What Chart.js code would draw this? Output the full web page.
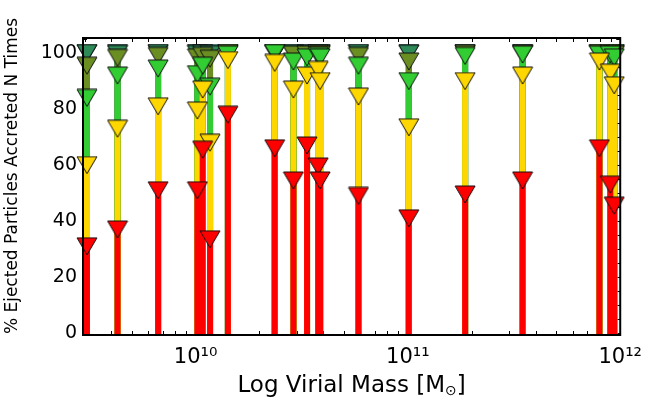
<!DOCTYPE html>
<html><head><meta charset="utf-8">
<script src="https://cdn.jsdelivr.net/npm/chart.js@4.4.0/dist/chart.umd.min.js"></script>
<style>html,body{margin:0;padding:0;background:#fff;}</style>
</head><body>
<canvas id="c" width="652" height="409"></canvas>
<script>
// ---- data ----
const masses = [3.08e9, 4.29e9, 6.66e9, 1.02e10, 1.08e10, 1.17e10, 1.42e10, 2.36e10, 2.89e10, 3.35e10,
                3.78e10, 3.86e10, 5.85e10, 1.01e11, 1.86e11, 3.47e11, 7.98e11, 8.98e11, 9.37e11];
// cumulative % of ejected particles accreted <= N times
const pctN1 = [31, 37, 51, 51, 65.5, 33.5, 78, 66, 54.5, 67, 59.5, 54.5, 49, 41, 49.5, 54.5, 66, 53, 45.5];
const pctN2 = [60, 73, 81, 79.5, 87, 68, 97.5, 96.5, 87, 92, 94, 90, 84.5, 73.5, 90, 92, 97, 93, 88.5];
const pctN3 = [84, 92, 94.5, 92.5, 95.5, 88, 99.5, 100, 97, 98.5, 99, 98.5, 95.5, 90, 99, 99.5, 99.5, 99.5, 98.5];
const pctN4 = [95.5, 98.3, 99, 98.5, 99, 98, 100, 100, 99.5, 99.5, 99.8, 99.5, 99, 97, 99.8, 99.8, 100, 100, 99.5];
const pctN5 = [100, 99.7, 100, 99.7, 99.8, 99.6, 100, 100, 100, 99.8, 100, 100, 100, 99.8, 100, 100, 100, 100, 100];
const pctN6 = [100, 100, 100, 100, 100, 100, 100, 100, 100, 100, 100, 100, 100, 100, 100, 100, 100, 100, 100];
const yTicks = [0, 20, 40, 60, 80, 100];
const xTicks = [1e10, 1e11, 1e12];
const xTickLabels = ['10\u00B9\u2070', '10\u00B9\u00B9', '10\u00B9\u00B2'];
const xTitle = ['Log Virial Mass [M', '\u2299', ']'];
const yTitle = '% Ejected Particles Accreted N Times';

// ---- styles ----
const levelColors = ['#FF0000', '#FFD700', '#32CD32', '#6B8E23', '#2E8B57', '#008B8B'];
const levelData = [pctN1, pctN2, pctN3, pctN4, pctN5, pctN6];
const Y_MIN = -0.7, Y_MAX = 105.4, X_MIN = 2.95e9, X_MAX = 1e12;
const FONT = '"DejaVu Sans", sans-serif';

function triangle(color) {
  const c = document.createElement('canvas');
  c.width = 22; c.height = 19;
  const g = c.getContext('2d');
  g.beginPath(); g.moveTo(1, 1); g.lineTo(21, 1); g.lineTo(11, 18); g.closePath();
  g.fillStyle = color; g.fill();
  g.lineWidth = 1; g.strokeStyle = '#111'; g.stroke();
  return c;
}
function segments(vals) {
  const out = [];
  masses.forEach((m, i) => { out.push({x: m, y: Y_MIN}, {x: m, y: vals[i]}, {x: m, y: null}); });
  return out;
}
const datasets = levelData.map((vals, k) => ({
  data: segments(vals),
  showLine: true,
  spanGaps: false,
  borderColor: levelColors[k],
  borderWidth: 6,
  pointStyle: triangle(levelColors[k]),
  pointRadius: ctx => (ctx.raw && ctx.raw.y > Y_MIN) ? 9 : 0,
  pointHoverRadius: 0,
  clip: false
}));

const axesPlugin = {
  id: 'axesPlugin',
  beforeDatasetsDraw(chart) {
    const {ctx, chartArea: a, scales: {x, y}} = chart;
    ctx.save();
    ctx.strokeStyle = '#000'; ctx.lineWidth = 1;
    ctx.beginPath();
    for (let v = 0; v <= 105; v += 5) {
      const py = Math.round(y.getPixelForValue(v)) + 0.5;
      const len = (v % 20 === 0) ? 7 : 4;
      ctx.moveTo(a.left, py); ctx.lineTo(a.left + len, py);
      ctx.moveTo(a.right, py); ctx.lineTo(a.right - len, py);
    }
    for (let e = 9; e <= 11; e++) {
      for (let d = 1; d <= 9; d++) {
        const v = d * Math.pow(10, e);
        if (v < X_MIN || v > X_MAX) continue;
        const px = Math.round(x.getPixelForValue(v)) + 0.5;
        const len = d === 1 ? 7 : 4;
        ctx.moveTo(px, a.bottom); ctx.lineTo(px, a.bottom - len);
        ctx.moveTo(px, a.top); ctx.lineTo(px, a.top + len);
      }
    }
    ctx.stroke();
    ctx.restore();
  },
  afterDatasetsDraw(chart) {
    const {ctx, chartArea: a} = chart;
    ctx.save();
    ctx.strokeStyle = '#000'; ctx.lineWidth = 2;
    ctx.strokeRect(a.left, a.top, a.right - a.left, a.bottom - a.top);
    ctx.restore();
  },
  afterDraw(chart) {
    const {ctx, chartArea: a} = chart;
    ctx.save();
    ctx.fillStyle = '#000';
    // x title with subscript sun symbol
    const big = '23px ' + FONT, small = '14px ' + FONT;
    ctx.font = big; const w1 = ctx.measureText(xTitle[0]).width, w3 = ctx.measureText(xTitle[2]).width;
    ctx.font = small; const w2 = ctx.measureText(xTitle[1]).width;
    let px = (a.left + a.right) / 2 - (w1 + w2 + w3) / 2;
    const base = 392;
    ctx.textBaseline = 'alphabetic'; ctx.textAlign = 'left';
    ctx.font = big; ctx.fillText(xTitle[0], px, base); px += w1;
    ctx.font = small; ctx.fillText(xTitle[1], px, base + 3); px += w2;
    ctx.font = big; ctx.fillText(xTitle[2], px, base);
    // y title
    ctx.translate(13, 176);
    ctx.rotate(-Math.PI / 2);
    ctx.textAlign = 'center'; ctx.textBaseline = 'middle';
    ctx.font = '17px ' + FONT;
    ctx.fillText(yTitle, 0, 0);
    ctx.restore();
  }
};

new Chart(document.getElementById('c'), {
  type: 'scatter',
  data: {datasets},
  options: {
    responsive: false,
    devicePixelRatio: 1,
    animation: false,
    events: [],
    layout: {padding: {top: 38, right: 25, left: 0, bottom: 0}},
    plugins: {legend: {display: false}, tooltip: {enabled: false}, title: {display: false}},
    scales: {
      x: {
        type: 'logarithmic', min: X_MIN, max: X_MAX,
        grid: {display: false, drawTicks: false}, border: {display: false},
        afterFit: s => { s.height = 74; },
        afterBuildTicks: s => { s.ticks = xTicks.map(v => ({value: v})); },
        ticks: {
          autoSkip: false, maxRotation: 0, padding: 10, color: '#000',
          font: {family: FONT, size: 21},
          callback: v => { const i = xTicks.indexOf(v); return i >= 0 ? xTickLabels[i] : ''; }
        }
      },
      y: {
        type: 'linear', min: Y_MIN, max: Y_MAX,
        grid: {display: false, drawTicks: false}, border: {display: false},
        afterFit: s => { s.width = 83; },
        afterBuildTicks: s => { s.ticks = yTicks.map(v => ({value: v})); },
        ticks: {padding: 6, color: '#000', font: {family: FONT, size: 19}, callback: v => String(v)}
      }
    }
  },
  plugins: [axesPlugin]
});
</script>
</body></html>
